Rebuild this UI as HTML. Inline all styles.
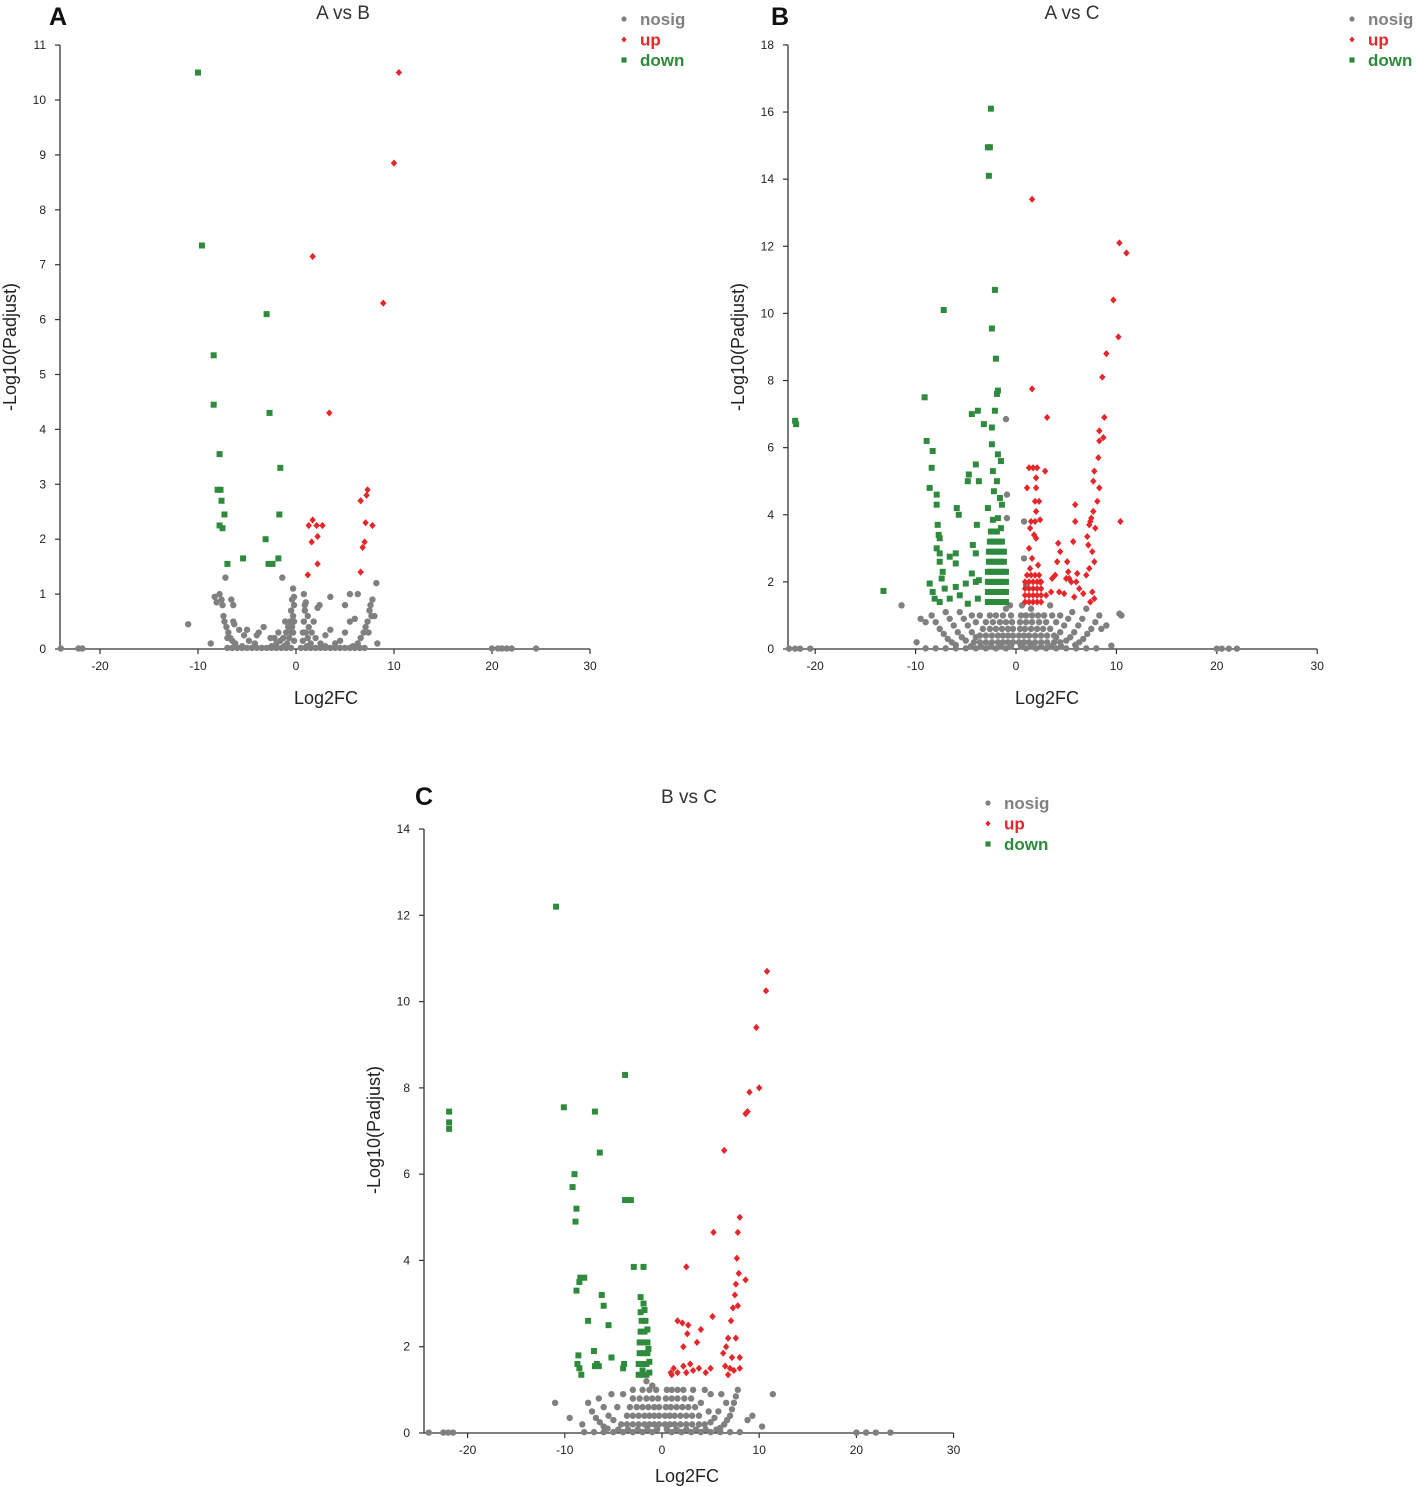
<!DOCTYPE html>
<html><head><meta charset="utf-8"><style>
html,body{margin:0;padding:0;background:#fff;}
svg{display:block;font-family:"Liberation Sans",Arial,sans-serif;}
</style></head><body>
<svg id="chart" width="1417" height="1487" viewBox="0 0 1417 1487"></svg>
<script>
// ---------- Panel A: A vs B ----------
const downA=[[-10,10.5],[-9.6,7.35],[-3,6.1],[-8.4,5.35],[-8.4,4.45],[-2.7,4.3],[-7.8,3.55],[-1.6,3.3],[-8,2.9],[-7.7,2.9],[-7.6,2.7],[-7.3,2.45],[-1.7,2.45],[-7.8,2.25],[-7.5,2.2],[-3.1,2.0],[-5.4,1.65],[-1.8,1.65],[-7.0,1.55],[-2.8,1.55],[-2.4,1.55]];
const upA=[[10.5,10.5],[10,8.85],[1.7,7.15],[8.9,6.3],[3.4,4.3],[7.3,2.9],[7.2,2.8],[6.6,2.7],[1.7,2.35],[1.3,2.25],[2.1,2.25],[2.7,2.25],[7.1,2.3],[7.8,2.25],[2.2,2.05],[1.6,1.95],[7.0,1.95],[6.8,1.85],[2.2,1.55],[6.6,1.4],[1.2,1.35]];
const nosigA=[[-24,0.01],[-22.2,0.01],[-21.8,0.01],[20,0.01],[20.6,0.01],[21,0.01],[21.5,0.01],[22,0.01],[24.5,0.01],
[-7,0.02],[-6.5,0.02],[-6,0.02],[-5.5,0.02],[-5,0.02],[-4.5,0.02],[-4,0.02],[-3.5,0.02],[-3,0.02],[-2.5,0.02],[-2,0.02],[-1.5,0.02],[-1,0.02],[-0.5,0.02],[0.5,0.02],[1,0.02],[1.5,0.02],[2,0.02],[2.5,0.02],[3,0.02],[3.5,0.02],[4,0.02],[4.5,0.02],[5,0.02],[5.5,0.02],[6,0.02],[6.5,0.02],[7,0.02],
[-0.3,1.1],[-0.4,0.9],[-0.2,0.8],[-0.5,0.7],[-0.3,0.6],[-0.6,0.5],[-0.2,0.5],[-0.8,0.4],[-0.4,0.4],[-1,0.3],[-0.5,0.3],[-1.3,0.2],[-0.7,0.2],[-1.6,0.15],[-0.9,0.1],[-2,0.1],[-1.2,0.05],[-2.5,0.05],[-1.4,1.3],[-0.2,0.95],[-0.3,0.3],[-0.2,0.15],[-1.8,0.3],[-2.2,0.2],[-1.1,0.5],
[0.8,1.0],[1,0.85],[0.9,0.7],[1.2,0.6],[0.8,0.5],[1.3,0.4],[1,0.3],[1.6,0.3],[1.2,0.2],[2,0.2],[1.5,0.1],[2.5,0.1],[1.1,0.05],[3,0.05],[2.2,0.75],[2.4,0.8],[0.7,0.3],[0.7,0.15],[0.9,0.8],[1.8,0.5],
[-7.6,0.9],[-7.8,1.0],[-7.5,0.8],[-7.3,0.5],[-7.1,0.4],[-6.9,0.3],[-6.7,0.2],[-6.5,0.15],[-6.2,0.1],[-5.5,0.05],[-8.1,0.85],[-8.3,0.95],[-6.4,0.8],[-6.6,0.9],[-6.3,0.45],[-5.8,0.35],[-5.3,0.25],[-4.8,0.15],[-4.2,0.1],[-3.8,0.3],[-3.3,0.4],[-2.6,0.2],[-11,0.45],[-8.7,0.1],[-7.2,1.3],[-6.4,0.5],[-5,0.35],[-4,0.25],[-7.4,0.6],[-7.0,0.2],
[7.8,0.9],[7.6,0.8],[7.5,0.7],[7.3,0.5],[7.1,0.4],[6.9,0.3],[6.6,0.2],[6.3,0.1],[5.8,0.05],[8.2,1.2],[8,0.6],[6,0.55],[5.5,0.5],[5,0.3],[4.5,0.15],[4,0.1],[3.5,0.35],[3,0.25],[5,0.8],[5.5,1.0],[6.3,1.0],[3.5,0.95],[8.3,0.1],[7.7,0.6],[7.4,0.3]];
const yTicksA=[0,1,2,3,4,5,6,7,8,9,10,11];

// ---------- Panel B: A vs C ----------
const downB=[[-2.5,16.1],[-2.6,14.95],[-2.8,14.95],[-2.7,14.1],[-2.1,10.7],[-7.2,10.1],[-2.4,9.55],[-2.0,8.65],[-1.8,7.7],[-1.9,7.6],[-9.1,7.5],[-22,6.8],[-21.9,6.7],[-4.4,7.0],[-3.8,7.1],[-2.1,7.1],[-3.2,6.7],[-2.4,6.6],[-8.9,6.2],[-8.3,5.9],[-8.4,5.4],[-2.4,6.1],[-1.8,5.8],[-1.5,5.6],[-4.0,5.5],[-4.7,5.2],[-4.8,5.0],[-2.3,5.3],[-1.9,5.0],[-3.7,5.0],[-8.6,4.8],[-7.9,4.6],[-2.2,4.7],[-1.6,4.5],[-1.4,4.3],[-7.9,4.3],[-5.9,4.2],[-5.7,4.0],[-2.8,4.2],[-7.8,3.7],[-3.9,3.7],[-7.7,3.4],[-7.6,3.3],[-7.9,3.0],[-7.6,2.85],[-6.6,2.75],[-6.0,2.85],[-4.3,3.1],[-4.0,2.85],[-7.6,2.6],[-6.0,2.55],[-7.3,2.3],[-4.4,2.25],[-7.4,2.1],[-4.0,2.0],[-8.6,1.95],[-6.0,1.85],[-5.0,1.95],[-3.7,2.05],[-8.3,1.7],[-7.1,1.8],[-6.6,1.5],[-5.6,1.6],[-4.8,1.35],[-3.8,1.5],[-13.2,1.73],[-8.1,1.5],[-7.6,1.4],
[-2.8,1.4],[-2.5,1.4],[-2.2,1.4],[-1.9,1.4],[-1.6,1.4],[-1.3,1.4],[-1.0,1.4],
[-2.8,1.7],[-2.5,1.7],[-2.2,1.7],[-1.9,1.7],[-1.6,1.7],[-1.3,1.7],[-1.0,1.7],
[-2.8,2.0],[-2.5,2.0],[-2.2,2.0],[-1.9,2.0],[-1.6,2.0],[-1.3,2.0],[-1.0,2.0],
[-2.8,2.3],[-2.5,2.3],[-2.2,2.3],[-1.9,2.3],[-1.6,2.3],[-1.3,2.3],[-1.0,2.3],
[-2.7,2.6],[-2.4,2.6],[-2.1,2.6],[-1.8,2.6],[-1.5,2.6],[-1.2,2.6],
[-2.7,2.9],[-2.4,2.9],[-2.1,2.9],[-1.8,2.9],[-1.5,2.9],[-1.2,2.9],
[-2.6,3.2],[-2.3,3.2],[-2.0,3.2],[-1.7,3.2],[-1.4,3.2],
[-2.5,3.5],[-2.2,3.5],[-1.9,3.5],[-1.5,3.6],[-2.3,3.85],[-1.8,3.9]];
const upB=[[1.6,13.4],[10.3,12.1],[11,11.8],[9.7,10.4],[10.2,9.3],[9.0,8.8],[8.6,8.1],[1.6,7.75],[3.1,6.9],[8.8,6.9],[8.3,6.5],[8.7,6.3],[8.3,6.2],[8.2,5.7],[7.8,5.3],[7.7,5.0],[8.3,4.8],[8.1,4.4],[10.4,3.8],[5.9,4.3],[5.9,3.8],[7.3,3.7],[7.5,3.9],[7.7,4.1],[7.9,3.6],[7.4,3.8],
[1.3,5.4],[1.7,5.4],[2.1,5.4],[2.9,5.3],[2.0,5.1],[1.1,4.8],[2.0,4.8],[1.9,4.4],[2.3,4.4],[2.0,4.1],[1.9,3.8],[1.5,3.8],[2.4,3.85],[1.4,3.6],[1.8,3.4],[2.0,3.3],[4.2,3.15],[5.7,3.2],[4.4,2.9],[7.1,3.35],[7.2,3.1],[7.6,2.9],[7.8,2.6],[4.1,2.6],[5.1,2.6],[5.2,2.3],[5.0,2.1],[5.3,2.1],[6.1,2.25],[6.0,2.0],[6.3,1.8],[5.5,2.0],[3.6,2.1],[3.9,2.2],[2.4,2.0],[4.3,1.7],[4.8,1.65],[5.8,1.55],[6.7,1.65],[7.6,1.7],[7.8,1.5],[7.4,1.4],[3.0,1.6],[3.5,1.7],[1.3,3.0],[1.6,2.7],[2.2,2.5],[1.4,2.4],[7.0,2.2],[7.3,2.4],
[0.9,1.4],[1.3,1.4],[1.7,1.4],[2.1,1.4],[2.5,1.4],
[0.9,1.6],[1.3,1.6],[1.7,1.6],[2.1,1.6],[2.5,1.6],
[0.9,1.8],[1.3,1.8],[1.7,1.8],[2.1,1.8],[2.5,1.8],
[0.9,2.0],[1.3,2.0],[1.7,2.0],[2.1,2.0],[2.5,2.0],
[1.1,2.2],[1.5,2.2],[1.9,2.2],[2.3,2.2]];
const nosigB=[[-22.6,0.01],[-22,0.01],[-21.5,0.01],[-20.5,0.01],[20,0.01],[20.5,0.01],[21.2,0.01],[22,0.01],
[-1.0,6.85],[-0.9,4.6],[-0.9,3.9],[0.8,3.8],[0.8,2.7],[-11.4,1.3],[-9.5,0.9],[-9,0.8],[-9.9,0.2],[10.3,1.05],[10.5,1.0],[8.5,0.6],[9,0.7],[9.5,0.1],[-9,0.02],[-8,0.02],[-7,0.02],[-6,0.02],[-5,0.02],[-4,0.02],[-3,0.02],[-2,0.02],[-1,0.02],[1,0.02],[2,0.02],[3,0.02],[4,0.02],[5,0.02],[6,0.02],[7,0.02],[8,0.02],
[-0.6,1.3],[-1.0,1.2],[-0.5,1.0],[-1.3,1.0],[-2.0,1.0],[-2.6,1.0],[-0.4,0.8],[-1.0,0.8],[-1.6,0.8],[-2.3,0.8],[-3.0,0.8],[-0.3,0.6],[-0.8,0.6],[-1.4,0.6],[-2.0,0.6],[-2.6,0.6],[-3.3,0.6],[-0.3,0.4],[-0.8,0.4],[-1.3,0.4],[-1.8,0.4],[-2.4,0.4],[-3.0,0.4],[-3.6,0.4],[-0.3,0.2],[-0.8,0.2],[-1.3,0.2],[-1.8,0.2],[-2.4,0.2],[-3.0,0.2],[-3.6,0.2],[-4.2,0.2],[-0.5,0.08],[-1.5,0.08],[-2.5,0.08],[-3.5,0.08],[-4.5,0.08],
[0.6,1.3],[1.0,1.9],[1.5,1.2],[0.5,1.0],[1.0,1.0],[1.6,1.0],[2.2,1.0],[2.8,1.0],[0.4,0.8],[1.0,0.8],[1.6,0.8],[2.3,0.8],[3.0,0.8],[0.4,0.6],[0.9,0.6],[1.5,0.6],[2.1,0.6],[2.7,0.6],[3.4,0.6],[0.3,0.4],[0.8,0.4],[1.3,0.4],[1.9,0.4],[2.5,0.4],[3.1,0.4],[3.8,0.4],[0.3,0.2],[0.8,0.2],[1.3,0.2],[1.9,0.2],[2.5,0.2],[3.1,0.2],[3.8,0.2],[4.4,0.2],[0.5,0.08],[1.5,0.08],[2.5,0.08],[3.5,0.08],[4.5,0.08],
[-8.4,1.0],[-8,0.8],[-7.6,0.6],[-7.2,0.45],[-6.8,0.3],[-6.4,0.2],[-6,0.12],[-7.0,1.1],[-6.6,0.9],[-6.2,0.7],[-5.8,0.5],[-5.4,0.35],[-5,0.25],[-5.6,1.1],[-5.2,0.9],[-4.8,0.7],[-4.4,0.5],[-4.0,0.35],[-4.4,1.0],[-4.0,0.8],[-3.6,1.0],
[8.3,1.0],[7.9,0.8],[7.5,0.6],[7.1,0.45],[6.7,0.3],[6.3,0.2],[5.9,0.12],[7.0,1.2],[6.6,0.9],[6.2,0.7],[5.8,0.5],[5.4,0.35],[5.0,0.25],[5.6,1.1],[5.2,0.9],[4.8,0.7],[4.4,0.5],[4.0,0.35],[4.4,1.0],[4.0,0.8],[3.6,1.0],[3.4,1.3]];
const yTicksB=[0,2,4,6,8,10,12,14,16,18];

// ---------- Panel C: B vs C ----------
const downC=[[-10.9,12.2],[-21.9,7.45],[-21.9,7.2],[-21.9,7.05],[-10.1,7.55],[-6.9,7.45],[-3.8,8.3],[-6.4,6.5],[-9.0,6.0],[-9.2,5.7],[-8.8,5.2],[-8.9,4.9],[-3.8,5.4],[-3.2,5.4],[-2.9,3.85],[-1.9,3.85],[-8.4,3.6],[-8.0,3.6],[-8.5,3.5],[-8.8,3.3],[-6.2,3.2],[-6.0,2.95],[-2.2,3.15],[-1.9,3.0],[-7.6,2.6],[-5.5,2.5],[-8.6,1.8],[-8.7,1.6],[-8.5,1.5],[-8.3,1.35],[-7.0,1.9],[-6.7,1.6],[-6.5,1.55],[-5.2,1.75],[-4.0,1.5],[-6.9,1.55],[-3.9,1.6],
[-2.4,1.35],[-2.0,1.35],[-1.6,1.35],[-1.3,1.4],[-2.4,1.6],[-2.0,1.6],[-1.6,1.6],[-1.3,1.65],[-2.3,1.85],[-1.9,1.85],[-1.5,1.85],[-2.3,2.1],[-1.9,2.1],[-1.5,2.1],[-2.2,2.35],[-1.8,2.35],[-1.5,2.4],[-2.1,2.6],[-1.7,2.6],[-2.2,2.8],[-1.8,2.85],[-2.0,1.45],[-1.4,1.95]];
const upC=[[10.8,10.7],[10.7,10.25],[9.7,9.4],[10.0,8.0],[9.0,7.9],[8.8,7.45],[8.6,7.4],[6.4,6.55],[5.3,4.65],[8.0,5.0],[7.8,4.65],[7.7,4.05],[7.9,3.7],[8.6,3.55],[2.5,3.85],[7.6,3.45],[7.5,3.2],[7.3,2.9],[7.8,2.95],[5.2,2.7],[4,2.4],[3.6,2.1],[2.7,2.5],[1.6,2.6],[2.1,2.55],[2.6,2.3],[2.2,2.0],[7.1,2.6],[6.8,2.2],[7.6,2.2],[6.6,2.0],[6.3,1.85],[7.2,1.75],[8.0,1.75],[6.5,1.55],[7.0,1.5],[7.4,1.45],[8.0,1.5],[1.2,1.5],[1.6,1.4],[2.2,1.55],[2.9,1.6],[3.8,1.5],[4.5,1.4],[5.0,1.5],[1.0,1.35],[0.9,1.4],[6.8,1.35],[3.2,1.45],[2.5,1.4]];
const nosigC=[[-24,0.01],[-22.5,0.01],[-22,0.01],[-21.5,0.01],[20,0.01],[21,0.01],[22,0.01],[23.5,0.01],
[-11,0.7],[-9.5,0.35],[-8.2,0.2],[10.3,0.15],[11.4,0.9],[8.8,0.3],[9.3,0.4],
[-8,0.02],[-7,0.02],[-6,0.02],[-5,0.02],[-4,0.02],[-3,0.02],[-2,0.02],[-1,0.02],[1,0.02],[2,0.02],[3,0.02],[4,0.02],[5,0.02],[6,0.02],[7,0.02],[8,0.02],
[-1.6,1.2],[-1.0,1.1],[-0.6,1.0],[-1.3,1.0],[-2.0,1.0],[-0.4,0.8],[-1.0,0.8],[-1.6,0.8],[-2.3,0.8],[-3.0,0.8],[-0.3,0.6],[-0.8,0.6],[-1.4,0.6],[-2.0,0.6],[-2.6,0.6],[-3.3,0.6],[-0.3,0.4],[-0.8,0.4],[-1.3,0.4],[-1.8,0.4],[-2.4,0.4],[-3.0,0.4],[-3.6,0.4],[-0.3,0.2],[-0.8,0.2],[-1.3,0.2],[-1.8,0.2],[-2.4,0.2],[-3.0,0.2],[-3.6,0.2],[-4.2,0.2],[-0.5,0.08],[-1.5,0.08],[-2.5,0.08],[-3.5,0.08],[-4.5,0.08],
[0.5,1.0],[1.0,1.0],[1.6,1.0],[2.2,1.0],[0.4,0.8],[1.0,0.8],[1.6,0.8],[2.3,0.8],[3.0,0.8],[0.4,0.6],[0.9,0.6],[1.5,0.6],[2.1,0.6],[2.7,0.6],[3.4,0.6],[0.3,0.4],[0.8,0.4],[1.3,0.4],[1.9,0.4],[2.5,0.4],[3.1,0.4],[3.8,0.4],[0.3,0.2],[0.8,0.2],[1.3,0.2],[1.9,0.2],[2.5,0.2],[3.1,0.2],[3.8,0.2],[4.4,0.2],[0.5,0.08],[1.5,0.08],[2.5,0.08],[3.5,0.08],[4.5,0.08],[4.4,1.0],[5.0,0.9],
[-7.6,0.7],[-7.2,0.5],[-6.8,0.35],[-6.4,0.25],[-6.0,0.15],[-5.6,0.1],[-6.5,0.8],[-6.0,0.6],[-5.5,0.4],[-5.0,0.3],[-4.6,0.6],[-5.2,0.9],[-4.0,0.9],[-3.0,1.0],
[7.8,1.0],[7.6,0.85],[7.4,0.7],[7.2,0.55],[7.0,0.4],[6.7,0.3],[6.4,0.2],[6.0,0.12],[5.6,0.08],[5.8,0.5],[5.4,0.35],[5.0,0.25],[6.1,0.9],[6.6,0.7],[4.8,0.5],[3.2,1.0],[4.0,0.7]];
const yTicksC=[0,2,4,6,8,10,12,14];
const xTicks=[-20,-10,0,10,20,30];

const NS='http://www.w3.org/2000/svg';
const svg=document.getElementById('chart');
function mk(tag,attrs,parent){const e=document.createElementNS(NS,tag);for(const k in attrs)e.setAttribute(k,attrs[k]);(parent||svg).appendChild(e);return e;}

function panel(cfg){
  const g=mk('g',{});
  
  
  const xs=v=>cfg.x0px+(v-0)*cfg.xu;
  const ys=v=>cfg.y0px-v*cfg.yu;
  // axes
  const yTop=ys(cfg.yTicks[cfg.yTicks.length-1]);
  const ya=mk('line',{x1:cfg.axX,y1:yTop,x2:cfg.axX,y2:cfg.y0px,stroke:'#333','stroke-width':1.3},g);
  
  
  const xa=mk('line',{x1:cfg.axX,y1:cfg.y0px,x2:xs(30),y2:cfg.y0px,stroke:'#333','stroke-width':1.3},g);
  
  
  cfg.yTicks.forEach(t=>{
    const y=ys(t);
    mk('line',{x1:cfg.axX-5,y1:y,x2:cfg.axX,y2:y,stroke:'#333','stroke-width':1.2},g);
    const tx=mk('text',{x:cfg.axX-14,y:y+4,'text-anchor':'end','font-size':12,fill:'#222'},g);
    tx.textContent=t;
    
    
  });
  xTicks.forEach(t=>{
    const x=xs(t);
    mk('line',{x1:x,y1:cfg.y0px,x2:x,y2:cfg.y0px+5,stroke:'#333','stroke-width':1.2},g);
    const tx=mk('text',{x:x,y:cfg.y0px+21,'text-anchor':'middle','font-size':12,fill:'#222'},g);
    tx.textContent=t;
    
    
  });
  // points
  cfg.nosig.forEach(p=>{
    const c=mk('circle',{cx:xs(p[0]),cy:ys(p[1]),r:3.2,fill:'#808080'},g);
    
    
  });
  cfg.down.forEach(p=>{
    const r=mk('rect',{x:xs(p[0])-3,y:ys(p[1])-3,width:6,height:6,fill:'#2e8b3d'},g);
    
    
  });
  cfg.up.forEach(p=>{
    const x=xs(p[0]),y=ys(p[1]);
    const d=mk('polygon',{points:`${x},${y-3.6} ${x+3.2},${y} ${x},${y+3.6} ${x-3.2},${y}`,fill:'#e5262b'},g);
    
    
  });
  // labels
  const tl=mk('text',{x:cfg.titleX,y:cfg.titleY,'text-anchor':'middle','font-size':19,fill:'#333'},g);
  tl.textContent=cfg.title;
  
  
  const pl=mk('text',{x:cfg.letterX,y:cfg.letterY,'font-size':25,'font-weight':'bold',fill:'#111'},g);
  pl.textContent=cfg.letter;
  
  
  const xl=mk('text',{x:cfg.xlabX,y:cfg.xlabY,'text-anchor':'middle','font-size':18,fill:'#222'},g);
  xl.textContent='Log2FC';
  
  
  const yl=mk('text',{x:0,y:0,'text-anchor':'middle','font-size':18,fill:'#222',transform:`translate(${cfg.ylabX},${cfg.ylabY}) rotate(-90)`},g);
  yl.textContent='-Log10(Padjust)';
  
  
  // legend
  const items=[['nosig','#808080','c'],['up','#e5262b','d'],['down','#2e8b3d','s']];
  items.forEach((it,i)=>{
    const y=cfg.legY+i*20.5;
    const lg=mk('g',{},g);
    
    
    const mx=cfg.legX;
    if(it[2]=='c')mk('circle',{cx:mx,cy:y,r:2.6,fill:it[1]},lg);
    else if(it[2]=='d')mk('polygon',{points:`${mx},${y-3} ${mx+2.6},${y} ${mx},${y+3} ${mx-2.6},${y}`,fill:it[1]},lg);
    else mk('rect',{x:mx-2.6,y:y-2.6,width:5.2,height:5.2,fill:it[1]},lg);
    const t=mk('text',{x:mx+16,y:y+6,'font-size':17,'font-weight':'bold',fill:it[1]},lg);
    t.textContent=it[0];
  });
}

panel({id:'a-vs-b',down:downA,up:upA,nosig:nosigA,yTicks:yTicksA,x0px:296,xu:9.8,y0px:649,yu:54.9,axX:60,
  title:'A vs B',titleX:343,titleY:19,letter:'A',letterX:49,letterY:25,xlabX:326,xlabY:704,ylabX:16,ylabY:347,legX:624,legY:19});
panel({id:'a-vs-c',down:downB,up:upB,nosig:nosigB,yTicks:yTicksB,x0px:1016,xu:10.04,y0px:649,yu:33.56,axX:788,
  title:'A vs C',titleX:1072,titleY:19,letter:'B',letterX:771,letterY:25,xlabX:1047,xlabY:704,ylabX:744,ylabY:347,legX:1352,legY:19});
panel({id:'b-vs-c',down:downC,up:upC,nosig:nosigC,yTicks:yTicksC,x0px:662,xu:9.72,y0px:1433,yu:43.14,axX:424,
  title:'B  vs  C',titleX:689,titleY:803,letter:'C',letterX:415,letterY:805,xlabX:687,xlabY:1482,ylabX:380,ylabY:1130,legX:988,legY:803});
</script>
</body></html>
